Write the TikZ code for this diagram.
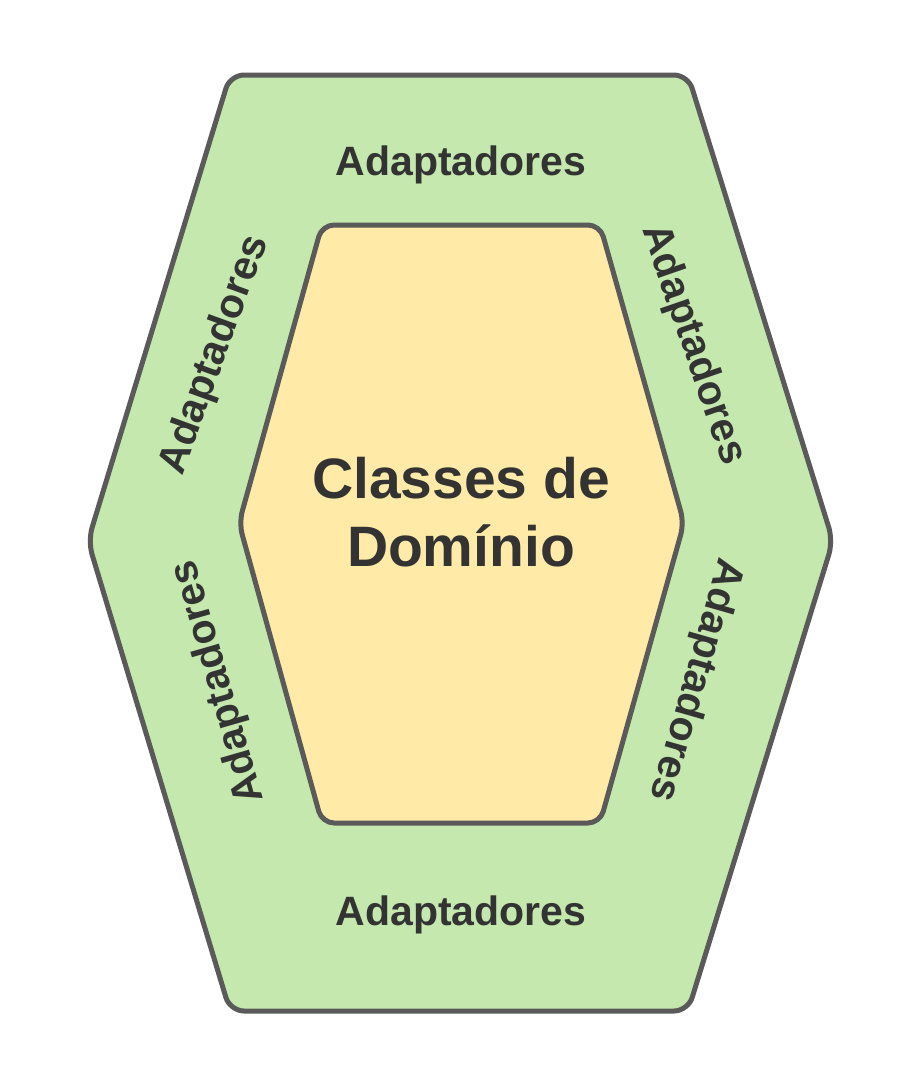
\documentclass[tikz,border=0pt]{standalone}
\usepackage{fontspec}
\setmainfont{Liberation Sans}
\definecolor{outerfill}{HTML}{C5E8AE}
\definecolor{innerfill}{HTML}{FFEAA8}
\definecolor{edgegray}{HTML}{5A5A5A}
\definecolor{textgray}{HTML}{333333}
\tikzset{
  hexline/.style={draw=edgegray, line width=5pt, rounded corners=14pt, line join=round},
  adapt/.style={inner sep=0pt, text=textgray, font=\fontsize{41}{49}\selectfont\bfseries},
  core/.style={inner sep=0pt, text=textgray, align=center, font=\fontsize{57}{68}\selectfont\bfseries}
}
\begin{document}
\begin{tikzpicture}[x=1pt,y=-1pt]
\useasboundingbox (0,0) rectangle (911,1088);
\draw[hexline, fill=outerfill] (230,75) -- (688,75) -- (833,541) -- (688,1011) -- (230,1011) -- (88,541) -- cycle;
\draw[hexline, rounded corners=12pt, fill=innerfill] (322,225) -- (600,225) -- (684,523) -- (600,823) -- (322,823) -- (239,523) -- cycle;
\node[adapt] (top) at (461,165) {Adaptadores};
\node[adapt] (bottom) at (461,915) {Adaptadores};
\node[adapt, rotate=70] (lu) at (215,355) {Adaptadores};
\node[adapt, rotate=-71] (ru) at (693,345) {Adaptadores};
\node[adapt, rotate=106] (ll) at (219,682) {Adaptadores};
\node[adapt, rotate=-106] (rl) at (695,680) {Adaptadores};
\node[core] (dom) at (461,512) {Classes de\\Domínio};
\end{tikzpicture}
\end{document}
